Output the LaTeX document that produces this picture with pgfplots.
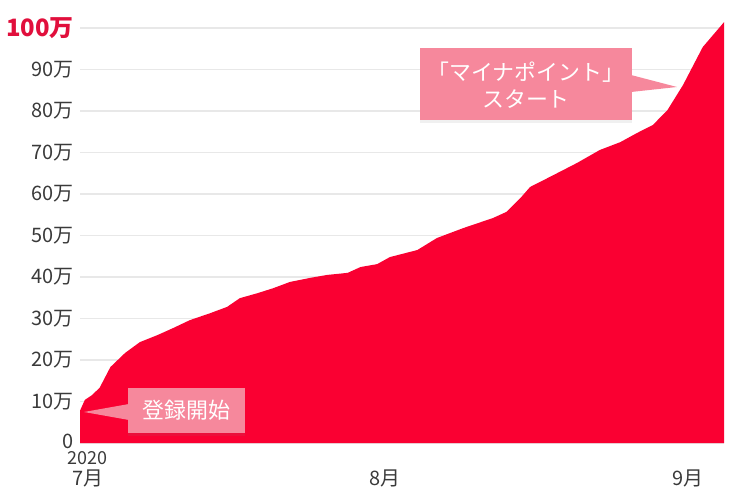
\documentclass[border=0pt]{standalone}
\usepackage{fontspec}
\setmainfont{Noto Sans CJK JP}
\usepackage{pgfplots}
\pgfplotsset{compat=1.18}
\usetikzlibrary{shadows}
\definecolor{areared}{RGB}{250,0,50}
\definecolor{calloutpink}{RGB}{246,136,156}
\definecolor{labelgray}{RGB}{58,58,58}
\definecolor{topred}{RGB}{225,15,60}
\definecolor{gridgray}{RGB}{232,232,232}
\begin{document}
\begin{tikzpicture}
\path[use as bounding box] (0bp,0bp) rectangle (740bp,493bp);
\begin{axis}[
  at={(80bp,50bp)}, anchor=south west,
  scale only axis, width=644bp, height=415bp,
  xmin=0, xmax=65.67, ymin=0, ymax=100,
  clip=false,
  axis line style={draw=none},
  major tick length=0pt,
  ytick={0,10,20,30,40,50,60,70,80,90,100},
  yticklabels={{\raisebox{3bp}{0}},10万,20万,30万,40万,50万,60万,70万,80万,90万,{\textcolor{topred}{\fontsize{24}{24}\selectfont\bfseries 100万}}},
  ymajorgrids,
  grid style={color=gridgray, line width=1.5bp},
  xtick={0.8,31.1,62},
  xticklabels={{\begin{tabular}[b]{@{}c@{}}{\fontsize{18}{18}\selectfont 2020}\\[-1bp]7月\end{tabular}},8月,9月},
  yticklabel style={font=\fontsize{20}{20}\selectfont, text=labelgray, anchor=east, inner sep=0pt, xshift=-6bp},
  xticklabel style={font=\fontsize{20}{20}\selectfont, text=labelgray, anchor=base, inner sep=0pt, yshift=-42bp},
]
\addplot[fill=areared, draw=none] coordinates {
(0,7.8) (0.5,10.4) (1.2,11.5) (2.0,13.3) (3.1,18.3) (4.6,21.7) (6.1,24.3)
(7.9,26.0) (9.5,27.7) (11.2,29.6) (13.3,31.3) (15.0,32.8) (16.3,34.9)
(18.1,36.1) (19.7,37.3) (21.4,38.8) (23.5,39.8) (25.2,40.5) (27.3,41.0)
(28.6,42.4) (30.3,43.1) (31.6,44.8) (34.4,46.5) (36.4,49.4) (39.1,51.8)
(42.1,54.2) (43.5,55.7) (44.9,59.0) (45.9,61.7) (47.9,64.1) (50.7,67.5)
(53.0,70.6) (55.1,72.5) (56.8,74.7) (58.4,76.6) (59.9,80.2) (61.5,86.3)
(63.5,95.4) (65.67,101.4)
} \closedcycle;
\end{axis}
% callout 1
\fill[calloutpink, drop shadow={opacity=0.12, shadow xshift=0bp, shadow yshift=-3bp}] (128bp,60bp) rectangle (245bp,105bp);
\fill[calloutpink] (84bp,81bp) -- (129bp,73bp) -- (129bp,89bp) -- cycle;
\node[text=white, inner sep=0pt, font=\fontsize{22}{22}\selectfont] at (186.5bp,82.5bp) {登録開始};
% callout 2
\fill[calloutpink, drop shadow={opacity=0.12, shadow xshift=0bp, shadow yshift=-3bp}] (420bp,373bp) rectangle (632bp,445bp);
\fill[calloutpink] (631bp,418bp) -- (677bp,406bp) -- (631bp,401bp) -- cycle;
\node[text=white, inner sep=0pt, align=center, font=\fontsize{22}{27}\selectfont] at (526bp,408bp) {「マイナポイント」\\スタート};
\end{tikzpicture}
\end{document}
